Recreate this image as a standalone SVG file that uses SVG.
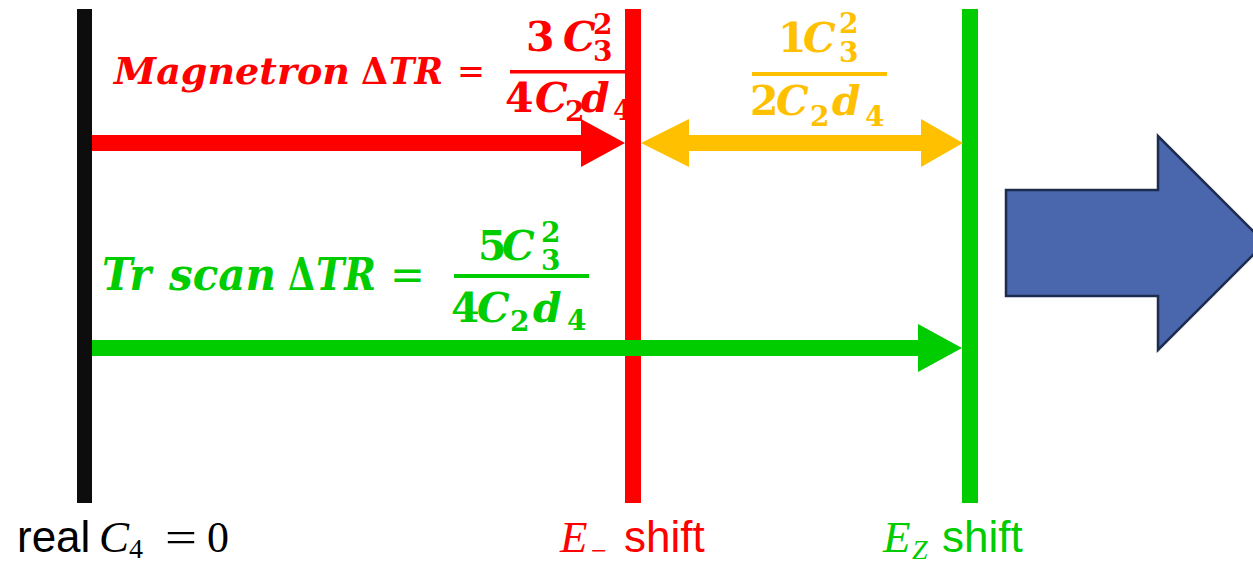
<svg xmlns="http://www.w3.org/2000/svg" width="1253" height="562" viewBox="0 0 1253 562">
<style>
.m{font-family:"DejaVu Serif","Liberation Serif",serif;font-weight:bold}
.i{font-style:italic}
.s{font-size:28px}
.f{font-size:41px}
.c{font-size:41px;font-style:italic}
.lab{font-family:"Liberation Sans","Open Sans",sans-serif;font-size:44px}
.mi{font-family:"Liberation Serif","DejaVu Serif",serif;font-style:italic}
.mn{font-family:"Liberation Serif","DejaVu Serif",serif;font-style:normal}
.red{fill:#FF0000}
.yel{fill:#FFC000}
.grn{fill:#00CC00}
.blk{fill:#000000}
</style>
<rect width="1253" height="562" fill="#FFFFFF"/>
<g id="line-real"><rect x="77" y="9" width="15" height="494" fill="#0D0D0D"/></g>
<g id="line-eminus"><rect x="625" y="9" width="16" height="494" fill="#FF0000"/></g>
<g id="line-ez"><rect x="962" y="9" width="16" height="494" fill="#00CC00"/></g>
<g id="connectors">
<polygon class="red" points="92,135 581,135 581,119 625,143 581,167 581,151 92,151"/>
<polygon class="yel" points="641,143 689,119 689,135 921,135 921,119 963,143 921,167 921,151 689,151 689,167"/>
<polygon class="grn" points="92,340 918,340 918,324 962,348 918,372 918,356 92,356"/>
</g>
<g id="big-arrow"><polygon points="1006,190 1158,190 1158,136 1265,243 1158,350 1158,296 1006,296" fill="#4A66AC" stroke="#1C2C4F" stroke-width="2.5"/></g>
<g id="label-magnetron" class="m red">
<text x="114" y="84" font-size="38" class="i" textLength="236" lengthAdjust="spacingAndGlyphs">Magnetron</text>
<text x="361" y="84" font-size="38" textLength="27" lengthAdjust="spacingAndGlyphs">Δ</text>
<text x="389" y="84" font-size="38" class="i" textLength="54" lengthAdjust="spacingAndGlyphs">TR</text>
<text x="457" y="84" font-size="38" font-weight="normal" textLength="28" lengthAdjust="spacingAndGlyphs">=</text>
<text x="526" y="51" class="f">3</text>
<text x="563" y="51" class="c">C</text>
<text x="593" y="34" class="s">2</text>
<text x="593" y="61" class="s">3</text>
<rect x="510" y="70" width="117" height="3.5"/>
<text x="505" y="112" class="f">4</text>
<text x="535" y="112" class="c">C</text>
<text x="565" y="121" class="s">2</text>
<text x="581" y="112" class="c">d</text>
<text x="613" y="120" class="s">4</text>
</g>
<g id="label-difference" class="m yel">
<text x="778" y="52" class="f">1</text>
<text x="803" y="52" class="c">C</text>
<text x="839" y="33" class="s">2</text>
<text x="839" y="62" class="s">3</text>
<rect x="752" y="72" width="135" height="4"/>
<text x="750" y="115" class="f">2</text>
<text x="776" y="115" class="c">C</text>
<text x="810" y="126" class="s">2</text>
<text x="832" y="115" class="c">d</text>
<text x="865" y="126" class="s">4</text>
</g>
<g id="label-trscan" class="m grn">
<text x="102" y="290" font-size="45" class="i" textLength="49" lengthAdjust="spacingAndGlyphs">Tr</text>
<text x="169" y="290" font-size="45" class="i" textLength="107" lengthAdjust="spacingAndGlyphs">scan</text>
<text x="288" y="290" font-size="45" textLength="27" lengthAdjust="spacingAndGlyphs">Δ</text>
<text x="316" y="290" font-size="45" class="i" textLength="60" lengthAdjust="spacingAndGlyphs">TR</text>
<text x="390" y="290" font-size="45" font-weight="normal" textLength="35" lengthAdjust="spacingAndGlyphs">=</text>
<text x="478" y="260" class="f">5</text>
<text x="502" y="260" class="c">C</text>
<text x="541" y="242" class="s">2</text>
<text x="541" y="270" class="s">3</text>
<rect x="454" y="274" width="135" height="4"/>
<text x="451" y="322" class="f">4</text>
<text x="477" y="322" class="c">C</text>
<text x="510" y="331" class="s">2</text>
<text x="533" y="322" class="c">d</text>
<text x="567" y="330" class="s">4</text>
</g>
<g id="label-real">
<text x="17" y="552" class="lab blk">real</text>
<text x="99" y="552" class="mi blk" font-size="45">C</text>
<text x="129" y="558" class="mn blk" font-size="28">4</text>
<text x="165" y="552" class="mn blk" font-size="44" textLength="32" lengthAdjust="spacingAndGlyphs">=</text>
<text x="207" y="552" class="mn blk" font-size="44">0</text>
</g>
<g id="label-eminus">
<text x="560" y="552" class="mi red" font-size="45">E</text>
<text x="591" y="560" class="mn red" font-size="28">−</text>
<text x="624" y="552" class="lab red">shift</text>
</g>
<g id="label-ez">
<text x="883" y="552" class="mi grn" font-size="45">E</text>
<text x="912" y="559" class="mi grn" font-size="28">Z</text>
<text x="942" y="552" class="lab grn">shift</text>
</g>
</svg>
